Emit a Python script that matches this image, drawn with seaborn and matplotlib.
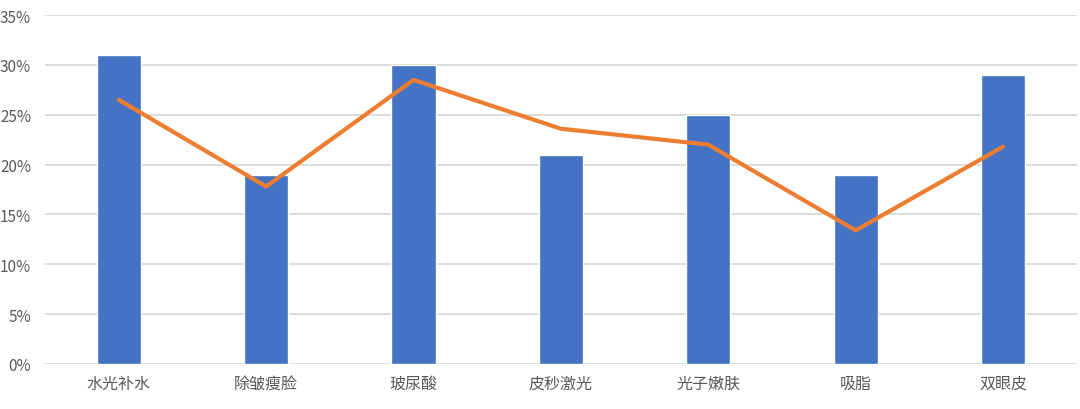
import numpy as np
import pandas as pd
import seaborn as sns
import matplotlib
matplotlib.use('Agg')
import matplotlib.pyplot as plt
from matplotlib.ticker import PercentFormatter, MultipleLocator

# data
categories = ['水光补水', '除皱瘦脸', '玻尿酸', '皮秒激光', '光子嫩肤', '吸脂', '双眼皮']
bar_values = [0.31, 0.19, 0.30, 0.21, 0.25, 0.19, 0.29]
line_values = [0.265, 0.178, 0.285, 0.236, 0.220, 0.134, 0.218]

sns.set_style('white')
plt.rcParams['font.family'] = ['Noto Sans CJK SC', 'DejaVu Sans']

df = pd.DataFrame({'category': categories, 'bar': bar_values, 'line': line_values})

fig = plt.figure(figsize=(10.8, 4.1), dpi=100)
ax = fig.add_axes([0.0417, 0.1098, 0.9553, 0.851])

# gridlines behind the bars
ax.set_axisbelow(True)
ax.yaxis.grid(True, color='#d9d9d9', linewidth=1.3)

sns.barplot(data=df, x='category', y='bar', color='#4472c4', saturation=1,
            width=0.3, ax=ax, zorder=2)
sns.lineplot(x=np.arange(len(categories)), y=df['line'], color='#ed7d31',
             linewidth=3.0, sort=False, ax=ax, zorder=3,
             solid_joinstyle='round', solid_capstyle='round')

ax.set_ylim(0, 0.35)
ax.set_xlim(-0.5, len(categories) - 0.5)
ax.yaxis.set_major_locator(MultipleLocator(0.05))
ax.yaxis.set_major_formatter(PercentFormatter(1.0, decimals=0))
ax.set_xlabel('')
ax.set_ylabel('')

for s in ax.spines.values():
    s.set_visible(False)

ax.tick_params(axis='x', length=0, pad=8, labelsize=11.5, labelcolor='#595959')
ax.tick_params(axis='y', length=0, pad=10, labelsize=11, labelcolor='#595959')

plt.savefig('out.png', dpi=100)
plt.close()
